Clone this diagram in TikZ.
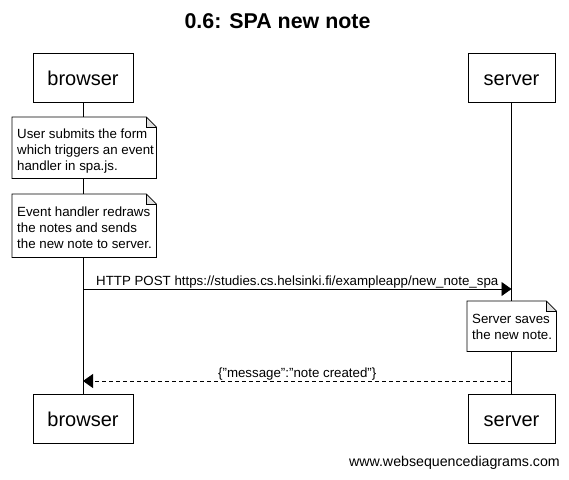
\documentclass[tikz,border=0pt]{standalone}
\usepackage{fontspec}
\setmainfont{Liberation Sans}
\usetikzlibrary{arrows.meta,calc}

\begin{document}
\begin{tikzpicture}[x=1pt,y=-1pt,
  actor/.style={draw,line width=0.8pt,fill=white,minimum width=100pt,minimum height=49pt,
    inner sep=0pt,text height=17pt,text depth=2pt,font=\fontsize{20}{24}\selectfont},
  noteframe/.style={inner sep=0pt,anchor=north west},
  notetext/.style={inner sep=0pt,align=left,anchor=north west,
    font=\fontsize{13.3}{16.3}\selectfont},
  msg/.style={line width=0.8pt,-{Triangle[length=10pt,width=14pt]}},
  msglabel/.style={font=\fontsize{13.3}{16}\selectfont,inner sep=0pt},
  lifeline/.style={line width=0.8pt}
]
\useasboundingbox (0,0) rectangle (569,479);

% title
\node (title) at (277.5,21) {\bfseries\fontsize{21.4}{25}\selectfont 0.6: SPA new note};

% participants
\node[actor] (bt) at (83,77.5) {browser};
\node[actor,minimum width=87pt] (st) at (511.5,77.5) {server};
\node[actor] (bb) at (83,419) {browser};
\node[actor,minimum width=87pt] (sb) at (511.5,419) {server};

% lifelines
\draw[lifeline] (bt.south) -- (bb.north);
\draw[lifeline] (st.south) -- (sb.north);

% note outline with a folded top-right corner
\newcommand{\notefold}[1]{%
  \fill[white] (#1.north west) rectangle (#1.south east);
  \fill[black!12] ($(#1.north east)+(-10,0)$) -- ($(#1.north east)+(-10,10)$) -- ($(#1.north east)+(0,10)$) -- cycle;
  \draw[line width=0.8pt] (#1.north west) -- ($(#1.north east)+(-10,0)$) -- ($(#1.north east)+(0,10)$)
    -- (#1.south east) -- (#1.south west) -- cycle;
  \draw[line width=0.6pt] ($(#1.north east)+(-10,0)$) -- ($(#1.north east)+(-10,10)$) -- ($(#1.north east)+(0,10)$);
}

\node[noteframe,minimum width=144pt,minimum height=61pt] (n1) at (12,117) {};
\notefold{n1}
\node[notetext] (t1) at ($(n1.north west)+(5,11.5)$)
  {User submits the form\\which triggers an event\\handler in spa.js.};

\node[noteframe,minimum width=144pt,minimum height=63pt] (n2) at (12,194) {};
\notefold{n2}
\node[notetext] (t2) at ($(n2.north west)+(5,12.5)$)
  {Event handler redraws\\the notes and sends\\the new note to server.};

% request
\coordinate (b1) at (bt.south |- 0,289);
\coordinate (s1) at (st.south |- 0,289);
\draw[msg] (b1) -- (s1) node[msglabel,midway,above=0.5pt] {HTTP POST https://studies.cs.helsinki.fi/exampleapp/new\_note\_spa};

% server note
\node[noteframe,minimum width=89pt,minimum height=50pt] (n3) at (467,301) {};
\notefold{n3}
\node[notetext] (t3) at ($(n3.north west)+(5,13)$) {Server saves\\the new note.};

% response
\coordinate (s2) at (st.south |- 0,381);
\coordinate (b2) at (bt.south |- 0,381);
\draw[msg,dashed,dash pattern=on 4pt off 3pt] (s2) -- (b2) node[msglabel,midway,above=0.5pt] {\{"message":"note created"\}};

% watermark
\node[font=\fontsize{14.2}{17}\selectfont,anchor=east,inner sep=0pt] (wm) at (560,463) {www.websequencediagrams.com};
\end{tikzpicture}
\end{document}
